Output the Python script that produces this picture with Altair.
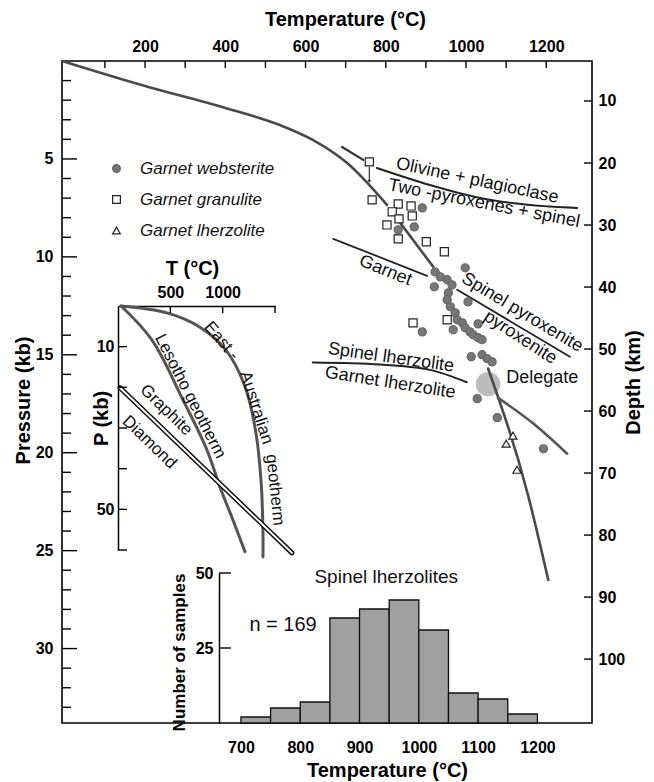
import altair as alt
import pandas as pd

# ---------------- data ----------------
# main geotherm (T in °C, P in kb)
geo_a_T = [-7, 200, 400, 536, 618, 703, 803]
geo_a_P = [0, 1.28, 2.4, 3.27, 4.03, 5.2, 7.35]
geo_b_T = [830, 918]
geo_b_P = [8.1, 10.5]
geo_c_T = [1055, 1155, 1205]
geo_c_P = [15.7, 22.2, 26.5]
branch_T = [1080, 1167, 1252]
branch_P = [17.2, 18.5, 20.05]
# phase boundaries
olplag_T = [778, 910, 1035, 1160, 1277]
olplag_P = [5.46, 6.33, 6.99, 7.35, 7.5]
olplag_end_T = [691, 744]
olplag_end_P = [4.39, 5.05]
garnet_T = [669, 903]
garnet_P = [9.08, 10.97]
spx_T = [978, 1259]
spx_P = [11.68, 15.1]
slz_T = [618, 786, 910, 1002]
slz_P = [15.4, 15.5, 15.77, 16.4]
arrow_T = [759]
arrow_P1 = [5.4]
arrow_P2 = [6.15]
delegate_T = [1055]
delegate_P = [16.5]

# samples
web_T = [891, 871, 831, 998, 1005, 923, 936, 953, 965, 921, 956, 953, 961, 973, 978, 991,
         998, 1010, 1018, 1030, 1040, 891, 968, 1030, 1013, 1040, 1053, 1065, 1028, 1078, 1193]
web_P = [7.50, 8.47, 8.62, 10.56, 12.30, 10.77, 11.02, 11.17, 11.43, 11.53, 11.84, 12.19, 12.55,
         12.86, 13.21, 13.37, 13.62, 13.83, 13.98, 14.13, 14.23, 13.83, 13.72, 13.42, 15.10, 15.0,
         15.2, 15.36, 17.24, 18.21, 19.8]
gran_T = [759, 766, 831, 863, 816, 866, 833, 803, 831, 901, 946, 868, 953]
gran_P = [5.15, 7.09, 7.30, 7.40, 7.70, 7.91, 8.06, 8.37, 9.08, 9.23, 9.74, 13.37, 13.21]
lherz_T = [1117, 1100, 1127]
lherz_P = [19.13, 19.54, 20.87]
sample_types = ["Garnet websterite", "Garnet granulite", "Garnet lherzolite"]

# annotations (main)
ann_text = ["Olivine + plagioclase", "Two -pyroxenes + spinel", "Garnet", "Spinel pyroxenite",
            "pyroxenite", "Spinel lherzolite", "Garnet lherzolite", "Delegate"]
ann_T = [1028, 1045, 799, 1140, 1135, 813, 811, 1190]
ann_P = [6.12, 7.29, 10.71, 12.85, 14.13, 15.15, 16.43, 16.2]
ann_angle = [12, 11, 22, 31, 33, 8, 9, 0]

# inset geotherms (T °C, P kb)
les_T = [30, 325, 621, 850, 974, 1098, 1213]
les_P = [0, 8.4, 23.1, 35.4, 44.5, 52.6, 60.4]
ea_T = [30, 468, 783, 1030, 1215, 1318, 1368, 1385, 1385]
ea_P = [0, 1.7, 5.2, 10.8, 19.9, 31.2, 43.5, 55.8, 61.7]
gd_T = [19, 1662]
gd_P = [20.1, 60.7]
inset_text = ["Lesotho geotherm", "East -", "Australian", "geotherm", "Graphite", "Diamond"]
inset_T = [690, 990, 1320, 1500, 460, 300]
inset_P = [22.2, 8.6, 25.0, 45.2, 25.6, 33.5]
inset_angle = [63, 50, 72, 84, 44, 44]

# histogram of spinel lherzolites
hist_start = [700, 750, 800, 850, 900, 950, 1000, 1050, 1100, 1150]
hist_end = [750, 800, 850, 900, 950, 1000, 1050, 1100, 1150, 1200]
hist_count = [2, 5, 7, 35, 38, 41, 31, 10, 8, 3]
hist_text = ["Spinel lherzolites", "n = 169"]
hist_text_T = [945, 771]
hist_text_N = [48.7, 32.7]
hist_text_size = [19, 20]

# tick values
top_ticks = [100, 200, 300, 400, 500, 600, 700, 800, 900, 1000, 1100, 1200]
top_labels = [200, 400, 600, 800, 1000, 1200]
p_minor = [p for p in range(1, 34) if p % 5 != 0]
p_major = [5, 10, 15, 20, 25, 30]
depth_ticks = [10, 20, 30, 40, 50, 60, 70, 80, 90, 100]
inset_T_ticks = [500, 1000, 1500]
inset_T_labels = [500, 1000]
inset_P_ticks = [10, 20, 30, 40, 50, 60]
inset_P_labels = [10, 50]
hist_y_ticks = [25, 50]
hist_x_labels = [700, 800, 900, 1000, 1100, 1200]

# ---------------- scales ----------------
W, H = 530, 662
MX = alt.Scale(domain=[-7, 1314])
MY = alt.Scale(domain=[0, 33.8], reverse=True)
DY = alt.Scale(domain=[3.55, 110.3], reverse=True)
IX = alt.Scale(domain=[0, 1500], range=[56, 213])
IY = alt.Scale(domain=[0, 60], range=[245, 489])
HX = alt.Scale(domain=[663, 1292], range=[157, 530])
HY = alt.Scale(domain=[0, 50], range=[662, 512])

AXF = "Liberation Sans Narrow, Liberation Sans, Arial"
TXF = "Liberation Sans, Arial, Helvetica"


def ax(**kw):
    base = dict(ticks=False, tickSize=0, grid=False, format="d", labelFont=AXF, labelFontSize=16,
                labelFontWeight="bold", labelColor="black", titleFont=AXF, titleFontSize=20,
                titleFontWeight="bold", titleColor="black", domainColor="black", domainWidth=1.5)
    base.update(kw)
    return alt.Axis(**base)


def line(Ts, Ps, xs, ys, color="#222", width=1.8, interp="linear"):
    df = pd.DataFrame({"T": Ts, "P": Ps, "i": list(range(len(Ts)))})
    return alt.Chart(df).mark_line(color=color, strokeWidth=width, interpolate=interp,
                                   strokeCap="round").encode(
        x=alt.X("T:Q", scale=xs, axis=None),
        y=alt.Y("P:Q", scale=ys, axis=None),
        order="i:Q")


def ticks_x(vals, scale, y1, y2, axis=None):
    df = pd.DataFrame({"v": vals})
    return alt.Chart(df).mark_rule(color="black", strokeWidth=1.4).encode(
        x=alt.X("v:Q", scale=scale, axis=axis), y=alt.value(y1), y2=alt.value(y2))


def ticks_y(vals, scale, x1, x2, axis=None):
    df = pd.DataFrame({"v": vals})
    return alt.Chart(df).mark_rule(color="black", strokeWidth=1.4).encode(
        y=alt.Y("v:Q", scale=scale, axis=axis), x=alt.value(x1), x2=alt.value(x2))


layers = []

# Delegate stippled area
layers.append(alt.Chart(pd.DataFrame({"T": delegate_T, "P": delegate_P})).mark_point(
    shape="circle", filled=True, size=600, color="#7a7a7a", opacity=0.5).encode(
    x=alt.X("T:Q", scale=MX, axis=None), y=alt.Y("P:Q", scale=MY, axis=None)))

# main curves
layers.append(line(geo_a_T, geo_a_P, MX, MY, "#4a4a4a", 2.6, "monotone"))
layers.append(line(geo_b_T, geo_b_P, MX, MY, "#4a4a4a", 2.6))
layers.append(line(geo_c_T, geo_c_P, MX, MY, "#4a4a4a", 2.6, "monotone"))
layers.append(line(branch_T, branch_P, MX, MY, "#555", 2.6, "monotone"))
layers.append(line(olplag_T, olplag_P, MX, MY, "#222", 2.0, "monotone"))
layers.append(line(olplag_end_T, olplag_end_P, MX, MY, "#333", 2.2))
layers.append(line(garnet_T, garnet_P, MX, MY, "#222", 1.8))
layers.append(line(spx_T, spx_P, MX, MY, "#222", 1.8))
layers.append(line(slz_T, slz_P, MX, MY, "#222", 2.0, "monotone"))

# small arrow under the granulite square
arrow_df = pd.DataFrame({"T": arrow_T, "P1": arrow_P1, "P2": arrow_P2})
layers.append(alt.Chart(arrow_df).mark_rule(color="#333", strokeWidth=1.2).encode(
    x=alt.X("T:Q", scale=MX, axis=None), y=alt.Y("P1:Q", scale=MY, axis=None), y2="P2:Q"))
layers.append(alt.Chart(arrow_df).mark_point(shape="triangle-down", filled=True, size=14,
                                             color="#333", opacity=1).encode(
    x=alt.X("T:Q", scale=MX, axis=None), y=alt.Y("P2:Q", scale=MY, axis=None)))

# samples with legend
samples = pd.concat([
    pd.DataFrame({"T": web_T, "P": web_P, "type": sample_types[0]}),
    pd.DataFrame({"T": gran_T, "P": gran_P, "type": sample_types[1]}),
    pd.DataFrame({"T": lherz_T, "P": lherz_P, "type": sample_types[2]}),
])
leg = alt.Legend(orient="none", legendX=46, legendY=99, title=None, labelFont=TXF,
                 labelFontStyle="italic", labelFontSize=17, labelColor="#111", symbolSize=60,
                 rowPadding=13, labelOffset=15, padding=0, symbolStrokeWidth=1.2)
layers.append(alt.Chart(samples).mark_point(filled=True, size=66, strokeWidth=1.2, opacity=1).encode(
    x=alt.X("T:Q", scale=MX, axis=None),
    y=alt.Y("P:Q", scale=MY, axis=None),
    shape=alt.Shape("type:N", scale=alt.Scale(domain=sample_types,
                                               range=["circle", "square", "triangle-up"]), legend=leg),
    fill=alt.Fill("type:N", scale=alt.Scale(domain=sample_types,
                                             range=["#777777", "white", "white"]), legend=leg),
    stroke=alt.Stroke("type:N", scale=alt.Scale(domain=sample_types,
                                                 range=["#666666", "#222222", "#222222"]), legend=leg),
))

# main annotations
ann_df = pd.DataFrame({"T": ann_T, "P": ann_P, "text": ann_text, "a": ann_angle})
layers.append(alt.Chart(ann_df).mark_text(font=TXF, fontSize=18, color="#111", align="center",
                                          baseline="middle").encode(
    x=alt.X("T:Q", scale=MX, axis=None), y=alt.Y("P:Q", scale=MY, axis=None),
    text="text:N", angle=alt.Angle("a:Q", scale=None)))

# inset curves
layers.append(line(les_T, les_P, IX, IY, "#555", 3.0, "catmull-rom"))
layers.append(line(ea_T, ea_P, IX, IY, "#555", 3.0, "catmull-rom"))
layers.append(line(gd_T, gd_P, IX, IY, "#111", 5.0))
layers.append(line(gd_T, gd_P, IX, IY, "white", 2.0))
inset_df = pd.DataFrame({"T": inset_T, "P": inset_P, "text": inset_text, "a": inset_angle})
layers.append(alt.Chart(inset_df).mark_text(font=TXF, fontSize=17, color="#111", align="center",
                                            baseline="middle").encode(
    x=alt.X("T:Q", scale=IX, axis=None), y=alt.Y("P:Q", scale=IY, axis=None),
    text="text:N", angle=alt.Angle("a:Q", scale=None)))

# histogram
hist_df = pd.DataFrame({"start": hist_start, "end": hist_end, "count": hist_count})
layers.append(alt.Chart(hist_df).mark_rect(fill="#a0a0a0", stroke="#111", strokeWidth=1.3).encode(
    x=alt.X("start:Q", scale=HX,
            axis=ax(orient="bottom", values=hist_x_labels, domain=False, labelPadding=16,
                    title="Temperature (°C)", titleX=325, titleY=53, titleBaseline="alphabetic",
                    titleAnchor="start", titleAlign="center")),
    x2="end:Q",
    y=alt.Y("count:Q", scale=HY, axis=None),
    y2=alt.datum(0)))
htext_df = pd.DataFrame({"T": hist_text_T, "N": hist_text_N, "text": hist_text, "s": hist_text_size})
layers.append(alt.Chart(htext_df).mark_text(font=TXF, color="#111", align="center",
                                            baseline="middle").encode(
    x=alt.X("T:Q", scale=HX, axis=None), y=alt.Y("N:Q", scale=HY, axis=None),
    text="text:N", size=alt.Size("s:Q", scale=None)))

# axes + inward ticks
layers.append(ticks_x(top_ticks, MX, 0, 7,
                      ax(orient="top", values=top_labels, domain=False, labelPadding=7,
                         title="Temperature (°C)", titleX=283, titleY=-36,
                         titleBaseline="alphabetic", titleAlign="center", titleAnchor="start")))
layers.append(ticks_y(p_minor, MY, 0, 9))
layers.append(ticks_y(p_major, MY, 0, 15,
                      ax(orient="left", values=p_major, domain=False, labelPadding=9,
                         title="Pressure (kb)", titleAngle=270, titleX=-33, titleY=339,
                         titleAlign="center", titleBaseline="alphabetic", titleAnchor="start")))
depth_df = pd.DataFrame({"v": depth_ticks})
layers.append(alt.Chart(depth_df).mark_rule(color="black", strokeWidth=1.4).encode(
    y=alt.Y("v:Q", scale=DY,
            axis=ax(orient="right", values=depth_ticks, domain=False, labelPadding=6,
                    title="Depth (km)", titleAngle=270, titleX=47, titleY=321,
                    titleAlign="center", titleBaseline="alphabetic", titleAnchor="start")),
    x=alt.value(W), x2=alt.value(W - 8)))
layers.append(ticks_x(inset_T_ticks, IX, 245, 252,
                      ax(orient="top", offset=-245, values=inset_T_labels, labelPadding=6,
                         title="T (°C)", titleX=130, titleY=-32,
                         titleBaseline="alphabetic", titleAlign="center", titleAnchor="start")))
layers.append(ticks_y(inset_P_ticks, IY, 56, 65,
                      ax(orient="left", offset=-56, values=inset_P_labels, labelPadding=4,
                         title="P (kb)", titleAngle=270, titleX=-11, titleY=357,
                         titleAlign="center", titleBaseline="alphabetic", titleAnchor="start")))
layers.append(ticks_y(hist_y_ticks, HY, 157, 169,
                      ax(orient="left", offset=-157, values=hist_y_ticks, labelPadding=6,
                         title="Number of samples", titleFontSize=17, titleAngle=270,
                         titleX=-35, titleY=591, titleAlign="center",
                         titleBaseline="alphabetic", titleAnchor="start")))

chart = alt.layer(*layers).resolve_scale(x="independent", y="independent").properties(
    width=W, height=H,
    autosize=alt.AutoSizeParams(type="none"),
    padding={"left": 62, "top": 61, "right": 62, "bottom": 59},
    background="white",
).configure_view(stroke="black", strokeWidth=1.6)

chart.save("out.html", embed_options={"renderer": "svg", "actions": False})
